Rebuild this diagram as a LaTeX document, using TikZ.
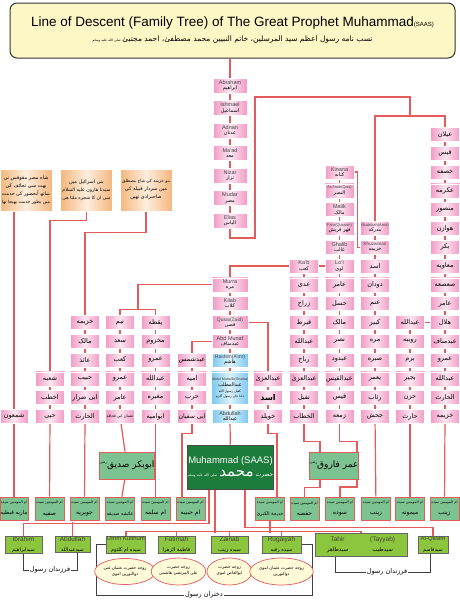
\documentclass[tikz,border=0pt]{standalone}
\usepackage{graphicx}
\usepackage{fontspec}
\setmainfont{Liberation Sans}
\newfontfamily\urdufont[Script=Arabic]{DejaVu Sans}
\TeXXeTstate=1
\newcommand\U[1]{{\urdufont\beginR #1\endR}}
\newsavebox\fitbox
\newcommand\FitW[2]{\sbox\fitbox{#2}\ifdim\wd\fitbox>#1\relax\resizebox{#1}{!}{\usebox\fitbox}\else\usebox\fitbox\fi}
\newcommand\PB[1]{\FitW{27pt}{\U{#1}}}
\newcommand\EU[2]{{\fontsize{5.5}{6}\selectfont\color{black!75}#1}\\[-1.5pt]\FitW{30pt}{\fontsize{5}{6}\selectfont\U{#2}}}
\newcommand\WF[1]{\FitW{27pt}{\fontsize{3.6}{4}\selectfont\U{ام المومنین سیده}}\\[-0.5pt]\FitW{27pt}{\fontsize{6}{7}\selectfont\U{#1}}}
\usetikzlibrary{shapes.geometric,backgrounds,calc}
\definecolor{lnk}{HTML}{E35B5B}
\definecolor{pinkE}{HTML}{F29AC4}
\definecolor{pinkC}{HTML}{FCE6F1}
\definecolor{blueE}{HTML}{7CC8EE}
\definecolor{blueC}{HTML}{DDF2FB}
\definecolor{peachE}{HTML}{F4B67E}
\definecolor{peachC}{HTML}{FDEEDD}
\definecolor{greenD}{HTML}{1C7C3A}
\definecolor{greenM}{HTML}{7CC391}
\definecolor{greenY}{HTML}{8CC63E}
\definecolor{titleY}{HTML}{FCF7C5}
\definecolor{ellY}{HTML}{FFFBD8}
\begin{document}
\begin{tikzpicture}[x=1pt,y=-1pt,
 ln/.style={draw=lnk,line width=1.2pt},
 brk/.style={draw=black!75,line width=0.8pt},
 pb/.style={rectangle,minimum width=29pt,minimum height=14pt,inner sep=0.3pt,left color=pinkE,right color=pinkE,middle color=pinkC,draw=white,line width=0.4pt,font=\fontsize{6.5}{7}\selectfont,align=center},
 pbt/.style={pb,minimum width=34pt,minimum height=15pt},
 cb/.style={pb,minimum width=36pt},
 bb/.style={pb,minimum width=36pt,left color=blueE,right color=blueE,middle color=blueC},
 notebox/.style={rectangle,minimum width=52pt,minimum height=42pt,inner sep=0.5pt,left color=peachE,right color=peachE,middle color=peachC,draw=white,align=center,font=\fontsize{5}{8}\selectfont},
 gbox/.style={rectangle,fill=greenM,draw=lnk,line width=0.8pt,minimum width=42pt,minimum height=27pt,inner sep=0},
 wife/.style={rectangle,fill=greenM,draw=lnk,line width=0.6pt,minimum width=29pt,minimum height=23pt,inner sep=0.3pt,align=center},
 kid/.style={rectangle,fill=greenY,draw=black!60,line width=0.6pt,minimum height=15pt,inner sep=0.3pt,align=center},
 ell/.style={ellipse,fill=ellY,draw=lnk,line width=0.7pt,inner sep=0,align=center,font=\fontsize{4.2}{6}\selectfont},
 lbl/.style={inner sep=1pt,font=\fontsize{6.5}{7}\selectfont}]
\useasboundingbox (0,0) rectangle (460,600);

% title
\node[rectangle,rounded corners=7pt,fill=titleY,draw=black!80,line width=1pt,minimum width=445pt,minimum height=55pt,align=center,inner sep=0] (ttl) at (232.5,30.5)
 {{\fontsize{13.5}{15}\selectfont Line of Descent (Family Tree) of The Great Prophet Muhammad{\fontsize{6}{7}\selectfont(SAAS)}}\\[3pt]
  \FitW{280pt}{\fontsize{9}{11}\selectfont\urdufont\beginR نسب نامه رسول اعظم سید المرسلین، خاتم النبیین محمد مصطفیٰ، احمد مجتبیٰ\kern2pt{\fontsize{4}{5}\selectfont صلی الله علیه وسلم}\endR}};

% upper central column
\node[pbt] (abr) at (230,85.5) {\EU{Abraham}{ابراهیم}};
\node[pbt] (ish) at (230,108) {\EU{Ishmael}{اسماعیل}};
\node[pbt] (adn) at (230,130.5) {\EU{Adnan}{عدنان}};
\node[pbt] (maad) at (230,153) {\EU{Ma'ad}{معد}};
\node[pbt] (niz) at (230,175.5) {\EU{Nizar}{نزار}};
\node[pbt] (mud) at (230,198) {\EU{Mudar}{مضر}};
\node[pbt] (eli) at (230,220.5) {\EU{Elias}{الیاس}};

% right column
\foreach \n/\y/\t in {ay/134.4/عیلان,qa/153.2/قیس,kh/172/خصفه,ik/190.8/عکرمه,mn/209.6/منصور,hw/228.4/هوازن,bk/247.2/بکر,mw/266/معاویه,ss/284.8/صعصعه,am/303.6/عامر,hl/322.4/هلال,amf/341.2/عبدمناف,amr/360/عمرو,abd/378.8/عبدالله,hr/397.6/الحارث,kz/416.4/خزیمه}
 \node[pb] (\n) at (445,\y) {\PB{\t}};

% c11
\foreach \n/\y/\t in {c11a/322.4/عبدالله,c11b/341.2/رویبه,c11c/360/برم,c11d/378.8/بجیر,c11e/397.6/حزن,c11f/416.4/حارث}
 \node[pb] (\n) at (410,\y) {\PB{\t}};

% c10
\node[pb] (mdr) at (375,228.4) {\EU{\fontsize{4}{5}\selectfont Mudrikah(Amir)}{مدرکه}};
\node[pb] (khz) at (375,247.2) {\EU{\fontsize{4.5}{5}\selectfont Khuzaiman}{خزیمه}};
\foreach \n/\y/\t in {c10a/266/اسد,c10b/284.8/دودان,c10c/303.6/غنم,c10d/322.4/کبیر,c10e/341.2/مره,c10f/360/صبره,c10g/378.8/یعمر,c10h/397.6/رئاب,jah/416.4/جحش}
 \node[pb] (\n) at (375,\y) {\PB{\t}};

% c9
\node[pb] (kin) at (339.5,172) {\EU{Kinana}{کنانه}};
\node[pb] (nad) at (339.5,190.8) {\EU{\fontsize{3.8}{4}\selectfont An-Nadr(Qais)}{النضر}};
\node[pb] (mlk) at (339.5,209.6) {\EU{Malik}{مالک}};
\node[pb] (fhr) at (339.5,228.4) {{\fontsize{4}{5}\selectfont\color{black!75}Fahr(Quraish)}\\[-1.5pt]{\fontsize{5}{6}\selectfont\urdufont\beginR فهر قریش\endR}};
\node[pb] (ghl) at (339.5,247.2) {\EU{Ghalib}{غالب}};
\node[pb] (loi) at (339.5,266) {\EU{Lo'i}{لوی}};
\foreach \n/\y/\t in {c9a/284.8/عامر,c9b/303.6/حسل,c9c/322.4/مالک,c9d/341.2/نصر,c9e/360/عبدود,c9f/378.8/عبدالقیس,c9g/397.6/قیس,zam/416.4/زمعه}
 \node[pb] (\n) at (339.5,\y) {\PB{\t}};

% c8
\node[pb] (kab) at (304,266) {\EU{Ka'b}{کعب}};
\foreach \n/\y/\t in {c8a/284.8/عدی,c8b/303.6/زراح,c8c/322.4/قیرط,c8d/341.2/عبدالله,c8e/360/رباح,c8f/378.8/عبدالعزیٰ,c8g/397.6/نفیل,ktb/416.4/الخطاب}
 \node[pb] (\n) at (304,\y) {\PB{\t}};

% c7
\node[pb] (c7a) at (268,378.8) {\PB{عبدالعزیٰ}};
\node[pb] (c7b) at (268,397.6) {\PB{\bfseries\fontsize{8}{9}\selectfont اسد}};
\node[pb] (khw) at (268,416.4) {\PB{خویلد}};

% central
\node[cb] (mur) at (230,284.8) {\EU{Murra}{مره}};
\node[cb] (kil) at (230,303.6) {\EU{Kilab}{کلاب}};
\node[cb] (qus) at (230,322.4) {\EU{\fontsize{5}{5}\selectfont Qusai(Zaid)}{قصی}};
\node[cb] (amn) at (230,341.2) {\EU{Abd Munaf}{عبدمناف}};
\node[bb] (has) at (230,360) {\EU{\fontsize{5}{5}\selectfont Hashim(A'mr)}{هاشم}};
\node[bb,minimum height=32.8pt] (amt) at (230,388.2) {\EU{\fontsize{3.6}{4}\selectfont Abdul Muttalib(Shaiba)}{عبدالمطلب}\\[-1pt]{\fontsize{3.3}{4}\selectfont\urdufont\beginR کفیل رسول الله\endR}\\[-1.5pt]{\fontsize{3.3}{4}\selectfont\urdufont\beginR دادا جان رسول اکرم\endR}};
\node[bb] (abdl) at (230,416.4) {\EU{Abdullah}{عبدالله}};

% c5, c4, c3, c2, c1, c0
\foreach \n/\y/\t in {c5a/360/عبدشمس,c5b/378.8/امیه,c5c/397.6/حرب}
 \node[pb] (\n) at (192,\y) {\PB{\t}};
\node[pb] (abs) at (192,416.4) {\FitW{27pt}{\urdufont\beginR ابی سفیان\endR}};
\foreach \n/\y/\t in {yaq/322.4/یقظه,c4b/341.2/مخزوم,c4c/360/عمرو,c4d/378.8/عبدالله,c4e/397.6/مغیره,aum/416.4/ابوامیه}
 \node[pb] (\n) at (155.5,\y) {\PB{\t}};
\foreach \n/\y/\t in {taym/322.4/تیم,c3b/341.2/سعد,c3c/360/کعب,c3d/378.8/عمرو,c3e/397.6/عامر}
 \node[pb] (\n) at (120,\y) {\PB{\t}};
\node[pb] (uth) at (120,416.4) {\FitW{27pt}{\urdufont\beginR عثمان ابی قحافه\endR}};
\foreach \n/\y/\t in {c2a/322.4/خزیمه,c2b/341.2/مالک,c2c/360/عائذ,c2d/378.8/حبیب,hrt/416.4/الحارث}
 \node[pb] (\n) at (85,\y) {\PB{\t}};
\node[pb] (c2e) at (85,397.6) {\FitW{27pt}{\urdufont\beginR ابی ضرار\endR}};
\foreach \n/\y/\t in {shb/378.8/شعبه,c1b/397.6/اخطب,hyy/416.4/حیی}
 \node[pb] (\n) at (50,\y) {\PB{\t}};
\node[pb,minimum width=28pt] (shm) at (14,416.4) {\PB{شمعون}};

% notes
\node[notebox] (n1) at (26,190) {\FitW{48pt}{\urdufont\beginR شاه مصر مقوقس نی\endR}\\\FitW{48pt}{\urdufont\beginR بهت سی تحائف کی\endR}\\\FitW{48pt}{\urdufont\beginR ساتھ آنحضور کی خدمت\endR}\\\FitW{48pt}{\urdufont\beginR میں بطور خدمت بھیجا تھا\endR}};
\node[notebox] (n2) at (86.5,190) {\FitW{48pt}{\urdufont\beginR بنی اسرائیل میں\endR}\\\FitW{48pt}{\urdufont\beginR سیدنا هارون علیه السلام\endR}\\\FitW{48pt}{\urdufont\beginR سی ان کا شجره ملتا هی\endR}};
\node[notebox] (n3) at (146,190) {\FitW{48pt}{\urdufont\beginR بنو خزیمه کی شاخ مصطلق\endR}\\\FitW{48pt}{\urdufont\beginR میں سردار قبیله کی\endR}\\\FitW{48pt}{\urdufont\beginR صاحبزادی تھیں\endR}};

% green boxes
\node[gbox] (abk) at (127,465.5) {\urdufont\beginR{\fontsize{9}{10}\selectfont ابوبکر صدیق}\raisebox{4pt}{\fontsize{3.5}{4}\selectfont رضی}\endR};
\node[gbox] (umr) at (334,465.5) {\urdufont\beginR{\fontsize{9}{10}\selectfont عمر فاروق}\raisebox{4pt}{\fontsize{3.5}{4}\selectfont رضی}\endR};
\node[rectangle,fill=greenD,draw=black!70,line width=0.8pt,minimum width=85pt,minimum height=44pt,align=center,inner sep=0,text=white] (muh) at (230.5,467)
 {{\fontsize{9.5}{10}\selectfont Muhammad (SAAS)}\\[1pt]{\urdufont\beginR{\fontsize{6}{7}\selectfont حضرت}\kern2pt{\fontsize{15}{16}\selectfont محمد}\kern2pt{\fontsize{3.5}{4}\selectfont صلی الله علیه وسلم}\endR}};

% wives
\node[wife,minimum width=28pt] (w1) at (14,508.5) {\WF{ماریه قبطیه}};
\node[wife] (w2) at (49.5,508.5) {\WF{صفیه}};
\node[wife] (w3) at (84.5,508.5) {\WF{جویریه}};
\node[wife] (w4) at (120,508.5) {\WF{عائشه صدیقه}};
\node[wife] (w5) at (155.5,508.5) {\WF{ام سلمه}};
\node[wife] (w6) at (190.5,508.5) {\WF{ام حبیبه}};
\node[wife] (w7) at (270,508.5) {\WF{خدیجة الکبریٰ}};
\node[wife] (w8) at (304.5,508.5) {\WF{حفصه}};
\node[wife] (w9) at (340,508.5) {\WF{سوده}};
\node[wife] (w10) at (376,508.5) {\WF{زینب}};
\node[wife] (w11) at (410,508.5) {\WF{میمونه}};
\node[wife] (w12) at (444.5,508.5) {\WF{زینب}};

% children
\node[kid,minimum width=37pt] (ibr) at (23.5,544.5) {\EU{\fontsize{6.5}{7}\selectfont Ibrahim}{سیدابراهیم}};
\node[kid,minimum width=35pt] (ab1) at (72.5,544.5) {\EU{\fontsize{6.5}{7}\selectfont Abdullah}{سیدعبدالله}};
\node[kid,minimum width=38pt] (uk) at (126,544.5) {{\fontsize{6}{7}\selectfont\color{black!75}Umm Kulthum}\\[-1.5pt]{\fontsize{5}{6}\selectfont\urdufont\beginR سیده ام کلثوم\endR}};
\node[kid,minimum width=37pt] (fat) at (176.5,544.5) {{\fontsize{6.5}{7}\selectfont\color{black!75}Fatimah}\\[-1.5pt]{\fontsize{5}{6}\selectfont\urdufont\beginR فاطمة الزهرا\endR}};
\node[kid,minimum width=37pt] (zai) at (229.5,544.5) {{\fontsize{6.5}{7}\selectfont\color{black!75}Zainab}\\[-1.5pt]{\fontsize{5}{6}\selectfont\urdufont\beginR سیده زینب\endR}};
\node[kid,minimum width=39pt] (rug) at (281.5,544.5) {{\fontsize{6.5}{7}\selectfont\color{black!75}Rugaiyah}\\[-1.5pt]{\fontsize{5}{6}\selectfont\urdufont\beginR سیده رقیه\endR}};
\node[kid,minimum width=92pt] (tt) at (361,544.5) {\begin{tabular}{@{}c@{\hspace{22pt}}c@{}}{\fontsize{6.5}{7}\selectfont\color{black!75}Tahir} & {\fontsize{6.5}{7}\selectfont\color{black!75}(Tayyab)}\\[-2pt]{\fontsize{5.5}{6}\selectfont\U{سیدطاهر}} & {\fontsize{5.5}{6}\selectfont\U{سیدطیب}}\end{tabular}};
\node[kid,minimum width=30pt] (qas) at (433,544.5) {\EU{\fontsize{6}{7}\selectfont Al-Qasim}{سیدقاسم}};

% ellipses
\node[ell,minimum width=56pt,minimum height=26pt] (e1) at (125,571.5) {{\urdufont\beginR زوجه حضرت عثمان غنی\endR}\\{\urdufont\beginR ذوالنورین اموی\endR}};
\node[ell,minimum width=43pt,minimum height=27pt] (e2) at (178.5,571.5) {{\urdufont\beginR زوجه حضرت\endR}\\{\urdufont\beginR علی المرتضیٰ هاشمی\endR}};
\node[ell,minimum width=45pt,minimum height=27pt] (e3) at (229.5,571.5) {{\urdufont\beginR زوجه حضرت\endR}\\{\urdufont\beginR ابوالعاص اموی\endR}};
\node[ell,minimum width=57pt,minimum height=27pt] (e4) at (281.5,571.5) {{\urdufont\beginR زوجه حضرت عثمان اموی\endR}\\{\urdufont\beginR ذوالنورین\endR}};

% bracket labels
\node[lbl] (sons1) at (50,570) {\urdufont\beginR فرزندان رسول\endR};
\node[lbl] (sons2) at (387,572) {\urdufont\beginR فرزندان رسول\endR};
\node[lbl] (dau) at (204,595) {\urdufont\beginR دختران رسول\endR};

\begin{scope}[on background layer]
\fill[white] (0,0) rectangle (460,600);
\draw[ln] (ttl.south -| abr.north) -- (abr.north);
\foreach \a/\b in {abr/ish,ish/adn,adn/maad,maad/niz,niz/mud,mud/eli} \draw[ln] (\a)--(\b);
\draw[ln] (eli.south) |- (255,238) -- (255,97) -| (410,116);
\draw[ln] (mdr.north) -- (375,116) -| (ay.north);
\foreach \a/\b in {ay/qa,qa/kh,kh/ik,ik/mn,mn/hw,hw/bk,bk/mw,mw/ss,ss/am,am/hl,hl/amf,amf/amr,amr/abd,abd/hr,hr/kz} \draw[ln] (\a)--(\b);
\foreach \a/\b in {c11a/c11b,c11b/c11c,c11c/c11d,c11d/c11e,c11e/c11f} \draw[ln] (\a)--(\b);
\draw[ln] (c11a) -- (hl);
\foreach \a/\b in {mdr/khz,khz/c10a,c10a/c10b,c10b/c10c,c10c/c10d,c10d/c10e,c10e/c10f,c10f/c10g,c10g/c10h,c10h/jah} \draw[ln] (\a)--(\b);
\draw[ln] (khz.west) -- ++(-3,0) |- (kin.east);
\foreach \a/\b in {kin/nad,nad/mlk,mlk/fhr,fhr/ghl,ghl/loi,loi/c9a,c9a/c9b,c9b/c9c,c9c/c9d,c9d/c9e,c9e/c9f,c9f/c9g,c9g/zam} \draw[ln] (\a)--(\b);
\draw[ln] (loi) -- (kab);
\foreach \a/\b in {kab/c8a,c8a/c8b,c8b/c8c,c8c/c8d,c8d/c8e,c8e/c8f,c8f/c8g,c8g/ktb} \draw[ln] (\a)--(\b);
\draw[ln] (kab.west) -| (mur.north);
\foreach \a/\b in {mur/kil,kil/qus,qus/amn,amn/has,has/amt,amt/abdl} \draw[ln] (\a)--(\b);
\draw[ln] (mur.west) -| (138,310);
\draw[ln] (taym.north) -- ++(0,-5.4) -| (yaq.north);
\draw[ln] (qus.east) -| (c7a.north);
\foreach \a/\b in {c7a/c7b,c7b/khw} \draw[ln] (\a)--(\b);
\draw[ln] (amn.west) -| (c5a.north);
\foreach \a/\b in {c5a/c5b,c5b/c5c,c5c/abs,yaq/c4b,c4b/c4c,c4c/c4d,c4d/c4e,c4e/aum,taym/c3b,c3b/c3c,c3c/c3d,c3d/c3e,c3e/uth,c2a/c2b,c2b/c2c,c2c/c2d,c2d/c2e,c2e/hrt,shb/c1b,c1b/hyy} \draw[ln] (\a)--(\b);
\draw[ln] (shm.north |- n1.south) -- (shm.north);
\draw[ln] (n2.south) -- ++(0,9) -| (shb.north);
\draw[ln] (n3.south) -- ++(0,21) -| (c2a.north);
\foreach \a/\b in {shm/w1,hyy/w2,hrt/w3,uth/abk,abk/w4,aum/w5,jah/w10,c11f/w11,kz/w12,abdl/muh} \draw[ln] (\a)--(\b);
\draw[ln] (abs.south) -- ++(0,10) -| ([xshift=-8.5]w6.north);
\draw[ln] (khw.south) -- ++(0,10) -| ([xshift=7]w7.north);
\draw[ln] (ktb.south) -- ++(0,18) -| ([xshift=-14]umr.north);
\draw[ln] ([xshift=-14]umr.south) -- ++(0,8) -| (w8.north);
\draw[ln] (zam.south) -- ++(0,18) -| (357,487) -| (w9.north);
\draw[ln] ([xshift=-21.5]muh.south) -- ++(0,34) -| (ibr.north);
\draw[ln] (ab1.north) -- ++(0,-14);
\draw[ln] ([xshift=-15.5]muh.south) -- ++(0,44);
\draw[ln] (uk.north) -- ++(0,-4) -| (tt.north);
\foreach \a in {fat,zai,rug} \draw[ln] (\a.north) -- ++(0,-4);
\draw[ln] (w7.south) -- ++(0,13);
\draw[ln] ([xshift=14.5]muh.south) -- ++(0,38) -| (qas.north);
\draw[brk] (ibr.south) |- (sons1.west);
\draw[brk] (sons1.east) -| ([xshift=5]ab1.south);
\draw[brk] ([xshift=-26]tt.south) |- (sons2.west);
\draw[brk] (sons2.east) -| ([xshift=-3]qas.south);
\draw[brk] (uk.west) -- ++(-10,0) |- (dau.west);
\draw[brk] (rug.east) -- ++(11,0) |- (dau.east);
\end{scope}
\end{tikzpicture}
\end{document}
